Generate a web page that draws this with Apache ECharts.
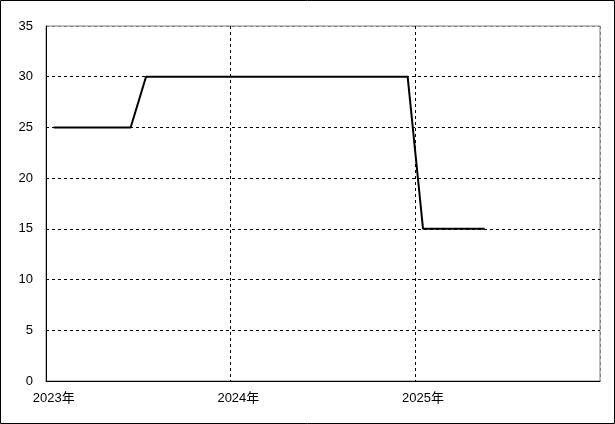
<!DOCTYPE html>
<html><head><meta charset="utf-8">
<script src="https://cdn.jsdelivr.net/npm/echarts@6/dist/echarts.min.js"></script>
<style>html,body{margin:0;padding:0;background:#fff}#c{width:615px;height:424px}</style>
</head><body><div id="c"></div>
<script>
var months = [];
for (var y = 2023; y <= 2025; y++) for (var m = 1; m <= 12; m++) months.push(y + '-' + (m < 10 ? '0' + m : m));
var values = [25,25,25,25,25,25,
  30,30,30,30,30,30,30,30,30,30,30,30,30,30,30,30,30,30,
  15,15,15,15,15,
  null,null,null,null,null,null,null];
var yTicks = [0,5,10,15,20,25,30,35];

var chart = echarts.init(document.getElementById('c'), null, {renderer:'canvas'});
var font = '"Liberation Sans", "Noto Sans CJK JP", sans-serif';
chart.setOption({
  animation:false,
  backgroundColor:'#fff',
  grid:{left:46,right:15,top:26,bottom:43,show:true,borderColor:'#808080',borderWidth:1},
  graphic:[{type:'rect',shape:{x:0.5,y:0.5,width:614,height:423},style:{fill:'none',stroke:'#000',lineWidth:1},silent:true}],
  xAxis:{type:'category',data:months,boundaryGap:true,
    axisLine:{lineStyle:{color:'#000',width:1}},
    axisTick:{show:false},
    axisLabel:{interval:11,color:'#000',fontSize:13,fontFamily:font,margin:11,
      formatter:function(v){return v.slice(0,4)+'年';}},
    splitLine:{show:true,interval:11,lineStyle:{color:['#000','#000','#000','#808080'],type:[3,3],width:1}}
  },
  yAxis:{type:'value',min:0,max:35,interval:5,
    axisLine:{show:true,lineStyle:{color:'#000',width:1}},
    axisTick:{show:false},
    axisLabel:{color:'#000',fontSize:13,fontFamily:font,margin:13,
      formatter:function(v){return yTicks.indexOf(v)>=0?String(v):'';}},
    splitLine:{show:true,lineStyle:{color:['#000','#000','#000','#000','#000','#000','#000','#808080'],type:[3,3],width:1}}
  },
  series:[{type:'line',data:values,showSymbol:false,symbol:'none',connectNulls:false,
    lineStyle:{color:'#000',width:2},itemStyle:{color:'#000'}}]
});
</script></body></html>
